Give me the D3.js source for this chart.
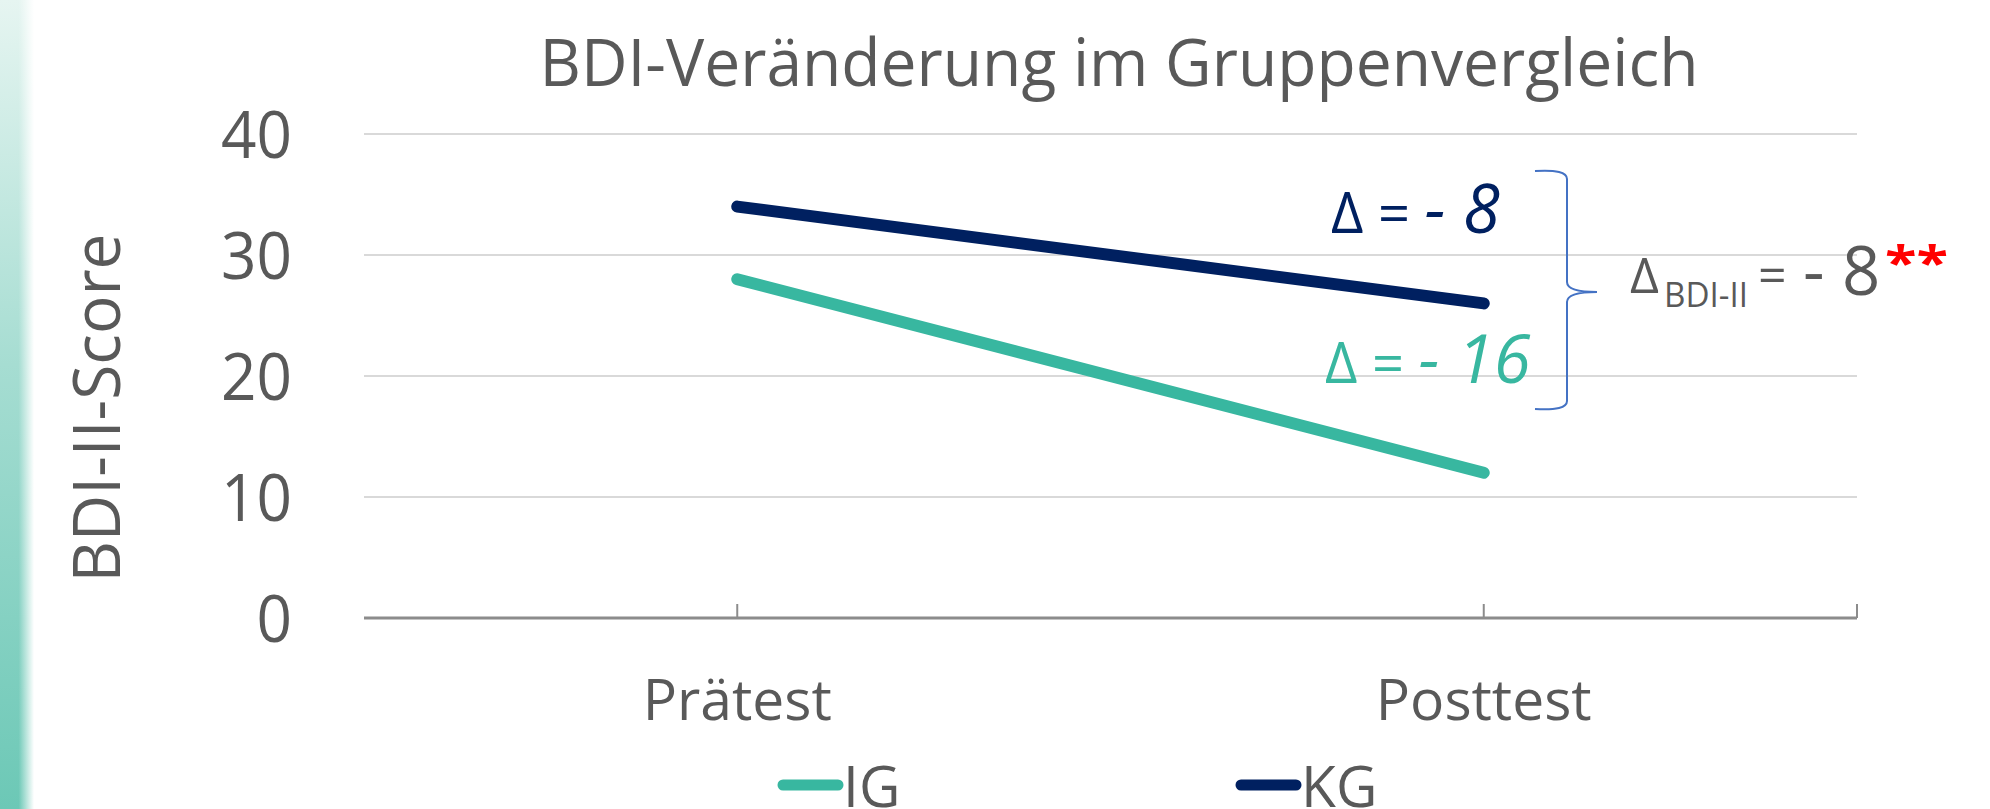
<!DOCTYPE html>
<html><head><meta charset="utf-8">
<script src="https://cdn.jsdelivr.net/npm/d3@7"></script>
<style>html,body{margin:0;padding:0;background:#fff;overflow:hidden}</style>
</head><body>
<svg id="c" width="1990" height="809"></svg>
<script>
// ---- data ----
const categories = ["Prätest", "Posttest"];
const seriesNames = ["IG", "KG"];
const igValues = [28, 12];
const kgValues = [34, 26];
const yTickValues = [0, 10, 20, 30, 40];
const titleText = "BDI-Veränderung im Gruppenvergleich";
const yTitleText = "BDI-II-Score";
const deltaKG = "- 8";
const deltaIG = "- 16";
const deltaBetween = "- 8";

// ---- style ----
const FONT = "'Open Sans','Noto Sans',sans-serif";
const GREY = "#595959";
const TEAL = "#38b7a0";
const NAVY = "#002060";

const svg = d3.select("#c");
const W = 1990, H = 809;
const margin = {left: 364, right: W - 1857, top: 134, bottom: H - 618};

// left decorative gradient strip
const defs = svg.append("defs");
const vg = defs.append("linearGradient").attr("id", "vg").attr("x1", 0).attr("y1", 0).attr("x2", 0).attr("y2", 1);
vg.append("stop").attr("offset", "0%").attr("stop-color", "#e6f5f1");
vg.append("stop").attr("offset", "45%").attr("stop-color", "#a6ddd2");
vg.append("stop").attr("offset", "100%").attr("stop-color", "#6cc8b6");
const hg = defs.append("linearGradient").attr("id", "hg").attr("x1", 0).attr("y1", 0).attr("x2", 1).attr("y2", 0);
hg.append("stop").attr("offset", "0%").attr("stop-color", "#fff").attr("stop-opacity", 0);
hg.append("stop").attr("offset", "55%").attr("stop-color", "#fff").attr("stop-opacity", 0);
hg.append("stop").attr("offset", "100%").attr("stop-color", "#fff").attr("stop-opacity", 1);
svg.append("rect").attr("x", 0).attr("y", 0).attr("width", 34).attr("height", H).attr("fill", "url(#vg)");
svg.append("rect").attr("x", 0).attr("y", 0).attr("width", 34).attr("height", H).attr("fill", "url(#hg)");

// scales
const x = d3.scalePoint().domain(categories).range([margin.left, W - margin.right]).padding(0.5);
const y = d3.scaleLinear().domain([0, 40]).range([H - margin.bottom, margin.top]);

// gridlines
svg.append("g").selectAll("line").data(yTickValues.filter(d => d > 0)).join("line")
  .attr("x1", margin.left).attr("x2", W - margin.right)
  .attr("y1", d => y(d)).attr("y2", d => y(d))
  .attr("stroke", "#d9d9d9").attr("stroke-width", 2);

// y tick labels
svg.append("g").selectAll("text").data(yTickValues).join("text")
  .attr("x", 292).attr("y", d => y(d)).attr("dy", "0.36em")
  .attr("text-anchor", "end")
  .attr("font-family", FONT).attr("font-size", 66).attr("fill", GREY)
  .attr("textLength", d => String(d).length * 35.5).attr("lengthAdjust", "spacingAndGlyphs")
  .text(d => d);

// x axis line
const xAxisG = svg.append("g").attr("transform", `translate(0,${y(0)})`);
xAxisG.append("line").attr("x1", margin.left).attr("x2", W - margin.right)
  .attr("y1", 0).attr("y2", 0).attr("stroke", "#8c8c8c").attr("stroke-width", 3);
const tickPos = categories.map(c => x(c)).concat([W - margin.right]);
xAxisG.selectAll("line.tk").data(tickPos).join("line").attr("class", "tk")
  .attr("x1", d => d).attr("x2", d => d).attr("y1", 0).attr("y2", -14)
  .attr("stroke", "#8c8c8c").attr("stroke-width", 2);
xAxisG.selectAll("text").data(categories).join("text")
  .attr("x", d => x(d)).attr("y", 102)
  .attr("text-anchor", "middle").attr("font-family", FONT).attr("font-size", 57).attr("fill", GREY)
  .text(d => d);

// lines
const line = d3.line().x((d, i) => x(categories[i])).y(d => y(d));
const series = [
  {name: seriesNames[0], values: igValues, color: TEAL},
  {name: seriesNames[1], values: kgValues, color: NAVY}
];
svg.append("g").selectAll("path").data(series).join("path")
  .attr("d", d => line(d.values)).attr("fill", "none")
  .attr("stroke", d => d.color).attr("stroke-width", 12)
  .attr("stroke-linecap", "round").attr("stroke-linejoin", "round");

// title
svg.append("text").attr("x", 1119).attr("y", 86).attr("text-anchor", "middle")
  .attr("font-family", FONT).attr("font-size", 66).attr("fill", GREY)
  .attr("textLength", 1159).attr("lengthAdjust", "spacingAndGlyphs")
  .text(titleText);

// y title
svg.append("text").attr("transform", `translate(120,408) rotate(-90)`)
  .attr("text-anchor", "middle").attr("font-family", FONT).attr("font-size", 66).attr("fill", GREY)
  .attr("textLength", 349).attr("lengthAdjust", "spacingAndGlyphs")
  .text(yTitleText);

// delta annotations (per group)
function deltaLabel(xp, yp, color, val) {
  const t = svg.append("text").attr("x", xp).attr("y", yp).attr("font-family", FONT).attr("fill", color);
  t.append("tspan").attr("font-size", 56).text("Δ = ");
  t.append("tspan").attr("font-size", 67).attr("font-style", "italic").text(val);
}
deltaLabel(1331, 233, NAVY, deltaKG);
deltaLabel(1325, 383, TEAL, deltaIG);

// brace
const bx = 1567, bTop = 171, bBot = 409, bMid = 292;
const brace = d3.path();
brace.moveTo(bx - 32, bTop);
brace.quadraticCurveTo(bx, bTop - 2, bx, bTop + 8);
brace.lineTo(bx, bMid - 10);
brace.quadraticCurveTo(bx, bMid, bx + 30, bMid);
brace.quadraticCurveTo(bx, bMid, bx, bMid + 10);
brace.lineTo(bx, bBot - 8);
brace.quadraticCurveTo(bx, bBot + 2, bx - 32, bBot);
svg.append("path").attr("d", brace.toString()).attr("fill", "none")
  .attr("stroke", "#4472c4").attr("stroke-width", 2);

// between-group delta
const bg = svg.append("g").attr("font-family", FONT).attr("fill", GREY);
bg.append("text").attr("x", 1630).attr("y", 293).attr("font-size", 50).text("Δ");
bg.append("text").attr("x", 1664).attr("y", 307).attr("font-size", 34)
  .attr("textLength", 84).attr("lengthAdjust", "spacingAndGlyphs").text("BDI-II");
bg.append("text").attr("x", 1758).attr("y", 293).attr("font-size", 50).text("=");
bg.append("text").attr("x", 1803).attr("y", 295).attr("font-size", 67).text(deltaBetween);
bg.append("text").attr("x", 1885).attr("y", 280).attr("font-size", 46).attr("font-weight", "bold")
  .attr("fill", "#ff0000").attr("textLength", 63).attr("lengthAdjust", "spacingAndGlyphs").text("**");

// legend
const lg = svg.append("g").selectAll("g").data(series).join("g")
  .attr("transform", (d, i) => `translate(${[783, 1241][i]},785)`);
lg.append("line").attr("x1", 0).attr("x2", 55).attr("y1", 0).attr("y2", 0)
  .attr("stroke", d => d.color).attr("stroke-width", 11).attr("stroke-linecap", "round");
lg.append("text").attr("x", 60).attr("y", 22).attr("font-family", FONT).attr("font-size", 57).attr("fill", GREY)
  .text(d => d.name);
</script>
</body></html>
